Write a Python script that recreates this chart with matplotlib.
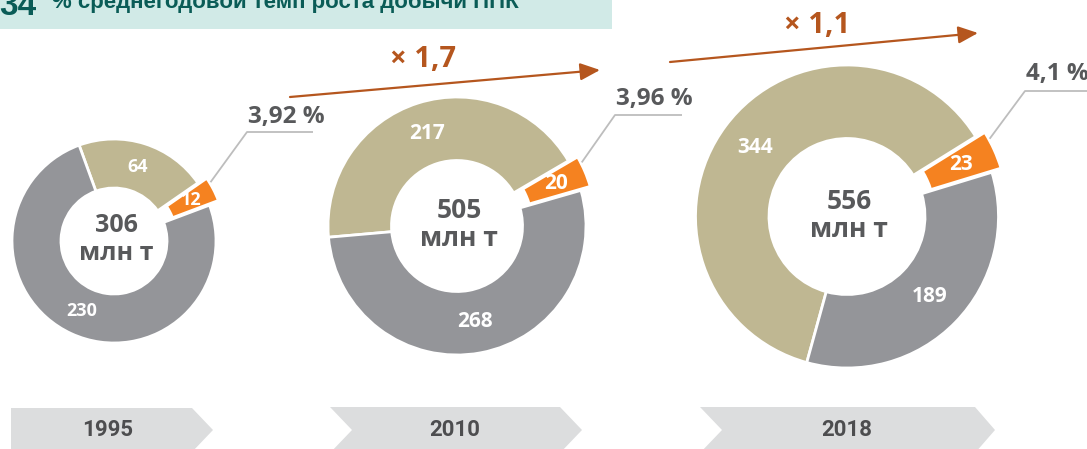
import matplotlib
matplotlib.use('Agg')
import matplotlib.pyplot as plt
from matplotlib.patches import Polygon, Rectangle
import numpy as np

W, H = 1087, 449

# ---------------- data ----------------
years = ['1995', '2010', '2018']
gray_vals = [230, 268, 189]
beige_vals = [64, 217, 344]
orange_vals = [12, 20, 23]
share_labels = ['3,92 %', '3,96 %', '4,1 %']
growth_labels = ['× 1,7', '× 1,1']
unit = 'млн т'
header_big = '34'
header_text = '% среднегодовой темп роста добычи ППК'

# ---------------- style ----------------
C_BEIGE = '#BFB792'
C_GRAY = '#949599'
C_ORANGE = '#F58220'
C_TEXT = '#58595B'
C_ARROW = '#B5561E'
C_LEADER = '#BDBDBD'
C_CHEV = '#DCDDDE'
C_YEAR = '#4D4D4F'
C_HEAD_BG = '#D1EAE7'
C_HEAD_FG = '#0A5C57'
FONT = ['Open Sans', 'DejaVu Sans']

# layout in pixels (y measured from top)
centers = [(114, 241), (457, 226), (847, 216.5)]
r_out = [102, 129, 151.5]
r_in = [53, 65.5, 78]
start_angles = [110, 185, 254.6]
explode_px = 10
label_sizes = [13, 15, 15]
center_sizes = [18, 19, 19]
elbows = [(247, 132), (615, 115), (1025, 91)]
leader_ends = [313, 682, 1095]
pct_baselines = [123, 105, 80]
arrows = [((290, 97), (600, 70)), ((670, 62), (978, 33))]
growth_pos = [(423, 67), (817, 33)]
chevrons = [
    [(11, 408), (192, 408), (213, 430), (192, 452), (11, 452)],
    [(330, 407), (560, 407), (582, 430), (560, 453), (330, 453), (352, 430)],
    [(700, 407), (975, 407), (995, 430), (975, 453), (700, 453), (722, 430)],
]
year_x = [108, 455, 847]


def Y(y):
    return H - y


fig = plt.figure(figsize=(W / 100, H / 100), dpi=100)
ax = fig.add_axes([0, 0, 1, 1])

# header band
ax.add_patch(Rectangle((0, Y(29)), 612, 29, facecolor=C_HEAD_BG, edgecolor='none', zorder=1))
ax.text(-1, Y(15), header_big, fontsize=24, fontweight='bold', color=C_HEAD_FG,
        family=['Liberation Sans', 'DejaVu Sans'], ha='left', va='baseline', zorder=2)
ax.text(52, Y(8), header_text, fontsize=16, fontweight='bold', color=C_HEAD_FG,
        family=['Liberation Sans', 'DejaVu Sans'], ha='left', va='baseline', zorder=2)

# donuts
for i in range(3):
    cx, cy = centers[i]
    r, ri = r_out[i], r_in[i]
    vals = [beige_vals[i], orange_vals[i], gray_vals[i]]
    wedges, _ = ax.pie(vals, colors=[C_BEIGE, C_ORANGE, C_GRAY], startangle=start_angles[i],
                       counterclock=False, radius=r, center=(cx, Y(cy)), frame=True,
                       wedgeprops=dict(width=r - ri, edgecolor='white', linewidth=2))
    # explode the orange slice
    ow = wedges[1]
    om = np.radians((ow.theta1 + ow.theta2) / 2)
    ow.set_center((cx + explode_px * np.cos(om), Y(cy) + explode_px * np.sin(om)))
    # value labels in ring middle
    rm = (r + ri) / 2
    for w, v in zip(wedges, vals):
        m = np.radians((w.theta1 + w.theta2) / 2)
        wx, wy = w.center
        ax.text(wx + rm * np.cos(m), wy + rm * np.sin(m), str(v), color='white',
                fontsize=label_sizes[i], fontweight='bold', family=FONT,
                ha='center', va='center', zorder=5)
    # center total
    total = sum(vals)
    ax.text(cx + 2, Y(cy) + 15, str(total), color=C_TEXT, fontsize=center_sizes[i],
            fontweight='bold', family=FONT, ha='center', va='center', zorder=5)
    ax.text(cx + 2, Y(cy) - 13, unit, color=C_TEXT, fontsize=center_sizes[i],
            fontweight='bold', family=FONT, ha='center', va='center', zorder=5)
    # leader line from orange slice
    a2 = np.radians(max(ow.theta1, ow.theta2) - 3)
    ox, oy = ow.center
    sx, sy = ox + (r + 1) * np.cos(a2), oy + (r + 1) * np.sin(a2)
    ex, ey = elbows[i]
    ax.plot([sx, ex, leader_ends[i]], [sy, Y(ey), Y(ey)], color=C_LEADER, lw=1.3, zorder=3,
            solid_capstyle='butt')
    ax.text(ex + 1, Y(pct_baselines[i]), share_labels[i], color=C_TEXT, fontsize=17.5,
            fontweight='bold', family=FONT, ha='left', va='baseline', zorder=5)

# growth arrows
for (p0, p1), lab, (tx, ty) in zip(arrows, growth_labels, growth_pos):
    ax.annotate('', xy=(p1[0], Y(p1[1])), xytext=(p0[0], Y(p0[1])),
                arrowprops=dict(arrowstyle='-|>,head_length=0.8,head_width=0.35',
                                color=C_ARROW, lw=1.6, mutation_scale=15,
                                shrinkA=0, shrinkB=0), zorder=4)
    ax.text(tx, Y(ty), lab, color=C_ARROW, fontsize=21, fontweight='bold', family=FONT,
            ha='center', va='baseline', zorder=5)

# year chevrons
for pts, yr, xx in zip(chevrons, years, year_x):
    ax.add_patch(Polygon([(x, Y(y)) for x, y in pts], closed=True, facecolor=C_CHEV,
                         edgecolor='none', zorder=1))
    ax.text(xx, Y(430), yr, color=C_YEAR, fontsize=16, fontweight='bold',
            family=['Roboto', 'DejaVu Sans'], ha='center', va='center', zorder=2)

ax.set_xlim(0, W)
ax.set_ylim(0, H)
ax.set_aspect('auto')
ax.axis('off')

fig.savefig('out.png', dpi=100)
